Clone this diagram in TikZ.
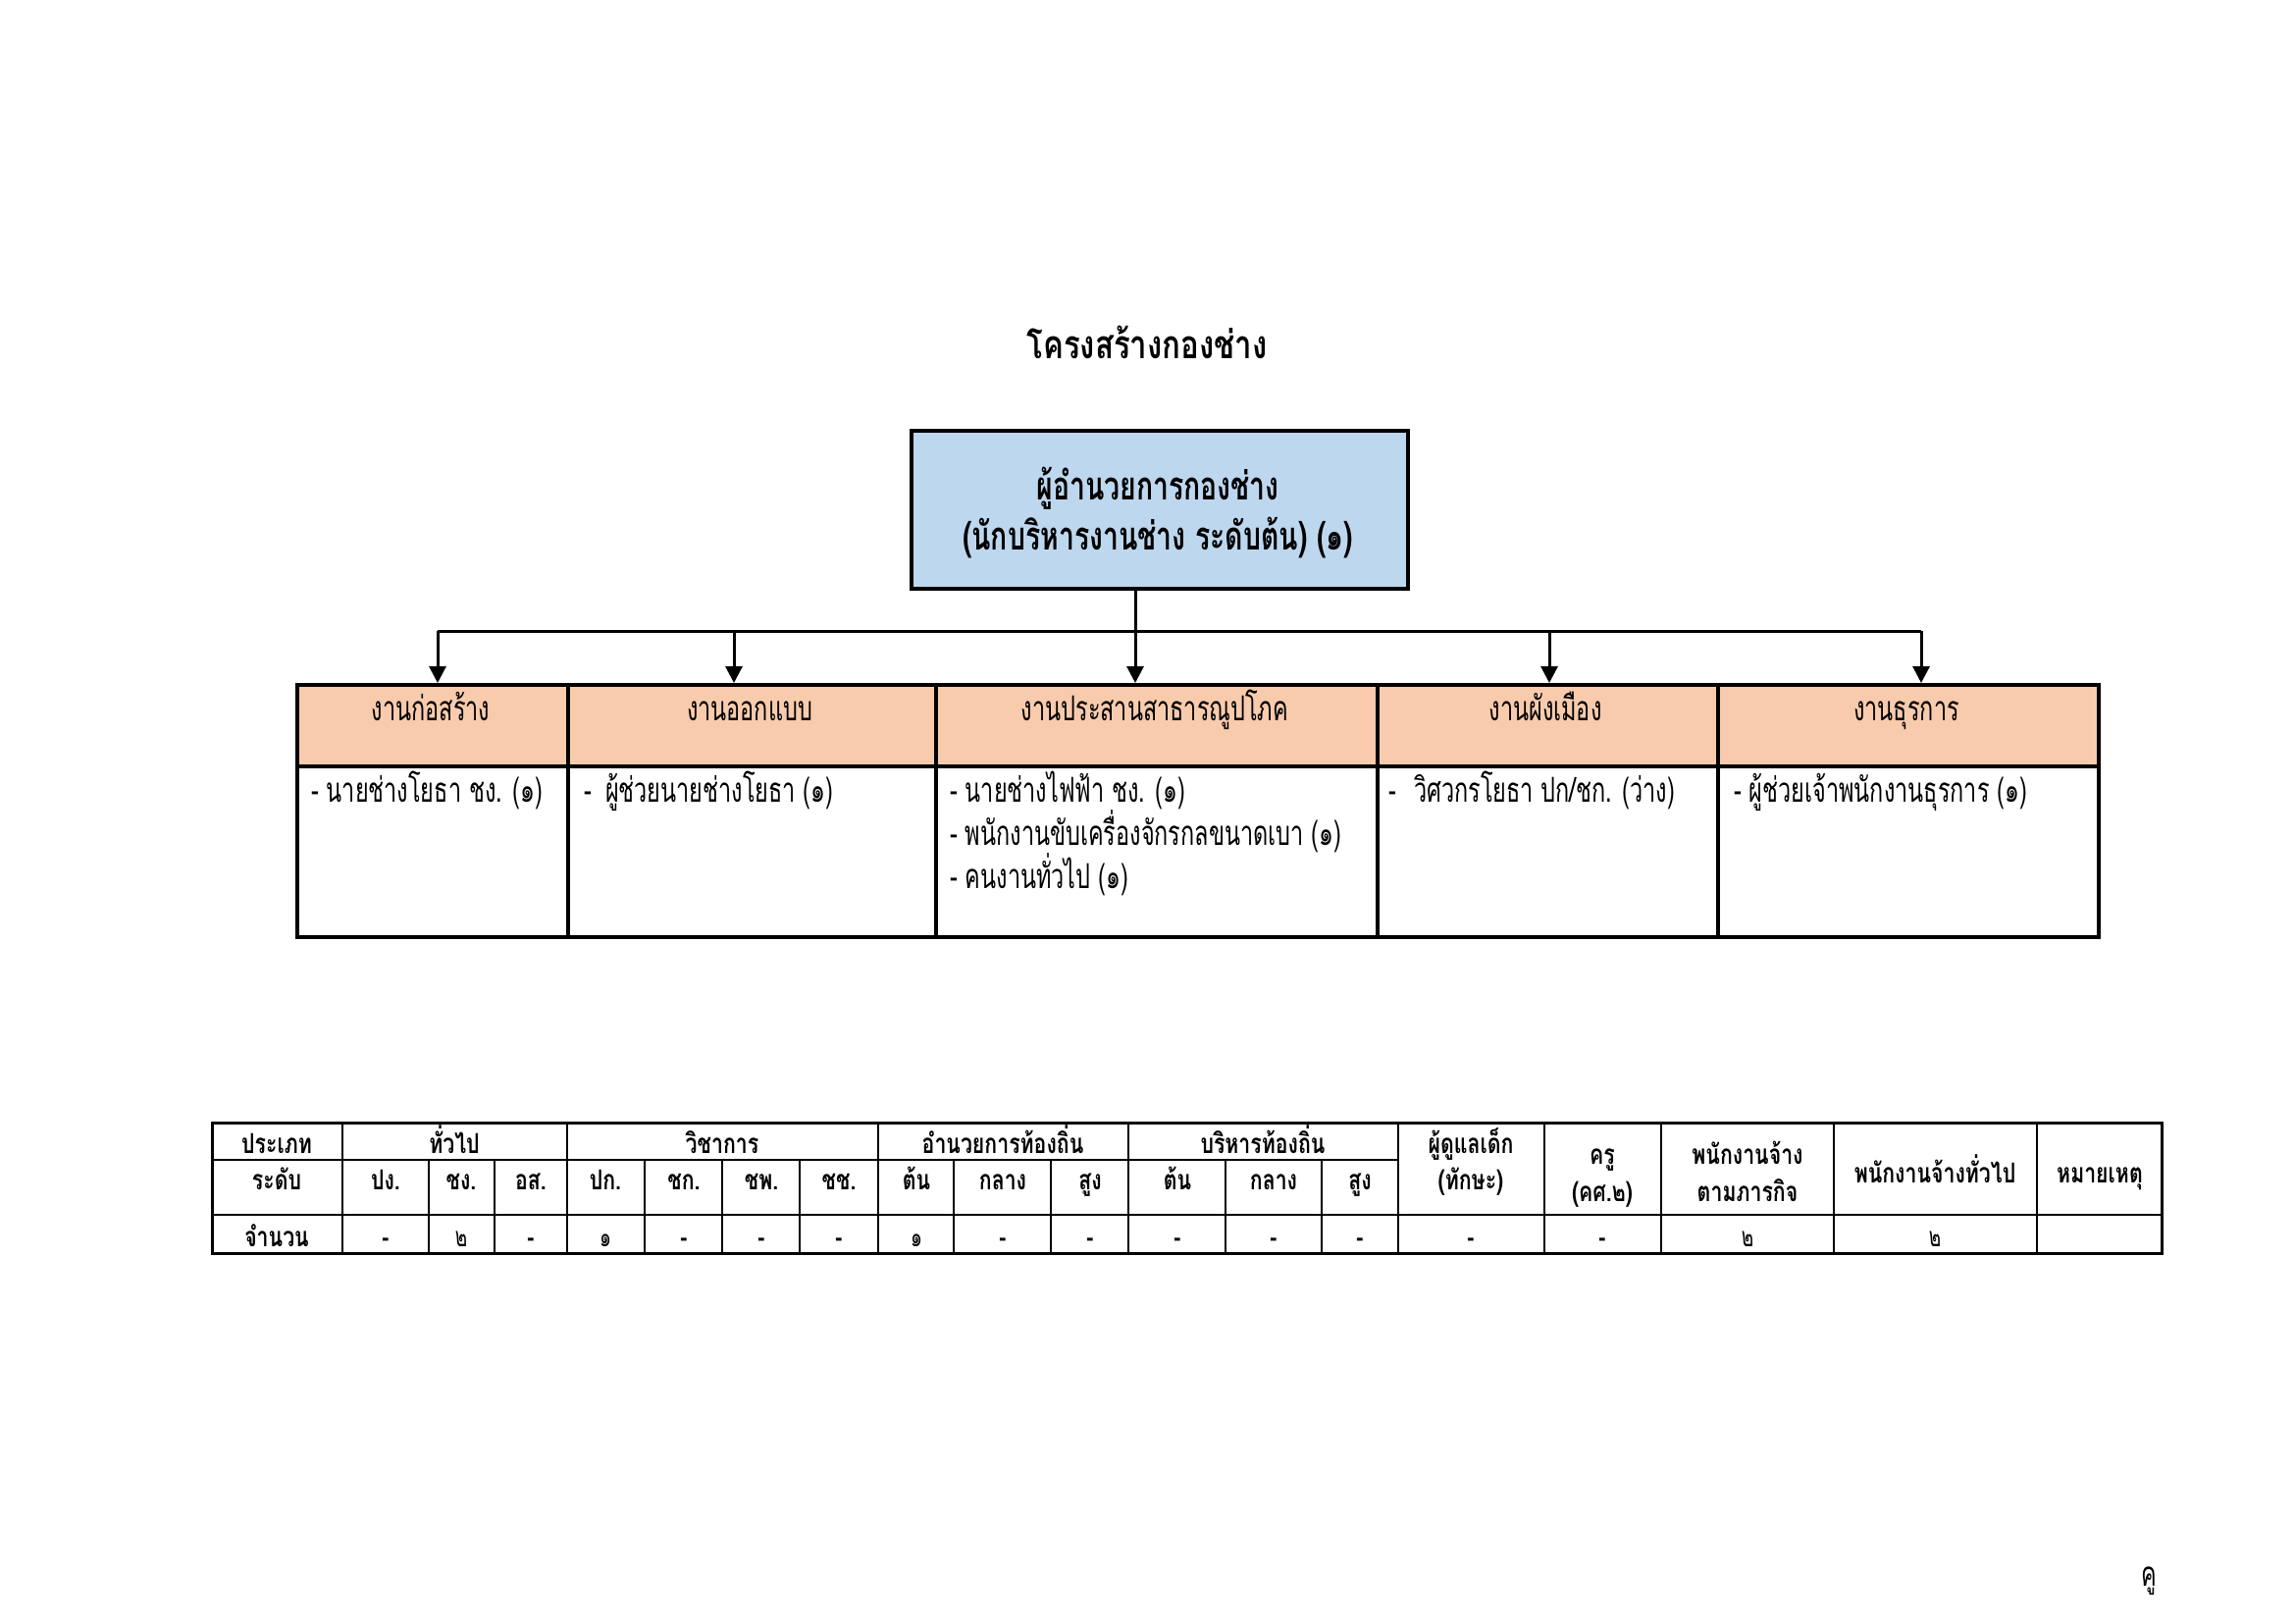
\documentclass[tikz,border=0pt]{standalone}
\usepackage{fontspec}
\usetikzlibrary{arrows.meta}
\newfontfamily\ththin[Script=Thai,FakeStretch=0.67]{Loma}
\newfontfamily\thbold[Script=Thai,FakeStretch=0.78]{Loma}
\newfontfamily\thboss[Script=Thai,FakeStretch=0.71]{Loma}
\newfontfamily\thtab[Script=Thai,FakeStretch=0.76]{Loma}
\definecolor{boxblue}{HTML}{BDD7EE}
\definecolor{hdrorange}{HTML}{F8CBAD}
\tikzset{
  conn/.style={line width=3pt},
  arr/.style={conn,-{Triangle[length=17pt,width=17pt]}},
  cellbox/.style={draw,line width=4pt,anchor=north west,inner sep=0pt},
  hdrbox/.style={cellbox,fill=hdrorange,minimum height=83pt},
  bodybox/.style={cellbox,fill=white,minimum height=174pt},
  titletxt/.style={font=\thbold\bfseries\fontsize{40}{48}\selectfont,anchor=base,inner sep=0pt},
  bosstxt/.style={font=\thboss\bfseries\fontsize{40}{48}\selectfont,anchor=base,inner sep=0pt},
  htxt/.style={font=\ththin\fontsize{35}{42}\selectfont,anchor=base,inner sep=0pt},
  btxt/.style={font=\ththin\fontsize{35}{42}\selectfont,anchor=base west,inner sep=0pt},
  tabtxt/.style={font=\thtab\bfseries\fontsize{28}{34}\selectfont,anchor=base,inner sep=0pt},
  numtxt/.style={font=\ththin\fontsize{28}{34}\selectfont,anchor=base,inner sep=0pt},
  tline/.style={line width=2pt},
  touter/.style={line width=3pt},
}
\begin{document}
\begin{tikzpicture}[x=1pt,y=-1pt]
\useasboundingbox (0,0) rectangle (2339,1654);
\fill[white] (0,0) rectangle (2339,1654);

% title
\node[titletxt] (title) at (1169,365) {โครงสร้างกองช่าง};

% boss box
\node[draw,line width=4pt,fill=boxblue,minimum width=506pt,minimum height=161pt,anchor=north west,inner sep=0pt] (boss) at (927,437) {};
\node[bosstxt] (boss1) at (1180,509) {ผู้อำนวยการกองช่าง};
\node[bosstxt] (boss2) at (1180,560) {(นักบริหารงานช่าง ระดับต้น) (๑)};

% header cells
\node[hdrbox,minimum width=276pt] (h1) at (301,696) {};
\node[hdrbox,minimum width=375pt] (h2) at (577,696) {};
\node[hdrbox,minimum width=450pt] (h3) at (952,696) {};
\node[hdrbox,minimum width=347pt] (h4) at (1402,696) {};
\node[hdrbox,minimum width=388pt] (h5) at (1749,696) {};
% body cells
\node[bodybox,minimum width=276pt] (b1) at (301,779) {};
\node[bodybox,minimum width=375pt] (b2) at (577,779) {};
\node[bodybox,minimum width=450pt] (b3) at (952,779) {};
\node[bodybox,minimum width=347pt] (b4) at (1402,779) {};
\node[bodybox,minimum width=388pt] (b5) at (1749,779) {};

% connectors
\coordinate (bus1) at (446,643);
\coordinate (bus2) at (748,643);
\coordinate (bus3) at (1157,643);
\coordinate (bus4) at (1579,643);
\coordinate (bus5) at (1958,643);
\draw[conn] (boss.south -| bus3) -- (bus3);
\draw[conn] (bus1) -- (bus5);
\draw[arr] (bus1) -- (bus1 |- h1.north);
\draw[arr] (bus2) -- (bus2 |- h2.north);
\draw[arr] (bus3) -- (bus3 |- h3.north);
\draw[arr] (bus4) -- (bus4 |- h4.north);
\draw[arr] (bus5) -- (bus5 |- h5.north);

% header texts
\node[htxt] (ht1) at (439,734) {งานก่อสร้าง};
\node[htxt] (ht2) at (764,734) {งานออกแบบ};
\node[htxt] (ht3) at (1177,734) {งานประสานสาธารณูปโภค};
\node[htxt] (ht4) at (1575,734) {งานผังเมือง};
\node[htxt] (ht5) at (1943,734) {งานธุรการ};

% body texts
\node[btxt] (bt1) at (317,817) {- นายช่างโยธา ชง. (๑)};
\node[btxt] (bt2) at (595,817) {-\hspace{14pt}ผู้ช่วยนายช่างโยธา (๑)};
\node[btxt] (bt3a) at (968,817) {- นายช่างไฟฟ้า ชง. (๑)};
\node[btxt] (bt3b) at (968,861) {- พนักงานขับเครื่องจักรกลขนาดเบา (๑)};
\node[btxt] (bt3c) at (968,905) {- คนงานทั่วไป (๑)};
\node[btxt] (bt4) at (1415,817) {-\hspace{18pt}วิศวกรโยธา ปก/ชก. (ว่าง)};
\node[btxt] (bt5) at (1767,817) {- ผู้ช่วยเจ้าพนักงานธุรการ (๑)};

% ---- bottom table ----
\draw[tline] (216,1182) -- (1425,1182);
\draw[tline] (216,1238) -- (2203,1238);
\foreach \x in {349,578,895,1150,1425,1574,1693,1869,2076}
  \draw[tline] (\x,1144) -- (\x,1277);
\foreach \x in {437,504,657,736,815,972,1071,1249,1347}
  \draw[tline] (\x,1182) -- (\x,1277);
\draw[touter] (216,1144) rectangle (2203,1277);

% row 1
\node[tabtxt] (r1a) at (282,1175) {ประเภท};
\node[tabtxt] (r1b) at (463,1175) {ทั่วไป};
\node[tabtxt] (r1c) at (736,1175) {วิชาการ};
\node[tabtxt] (r1d) at (1022,1175) {อำนวยการท้องถิ่น};
\node[tabtxt] (r1e) at (1287,1175) {บริหารท้องถิ่น};
\node[tabtxt] (r1f) at (1499,1175) {ผู้ดูแลเด็ก};
\node[tabtxt] (r1f2) at (1499,1212) {(ทักษะ)};
\node[tabtxt] (r1g) at (1633,1186) {ครู};
\node[tabtxt] (r1g2) at (1633,1224) {(คศ.๒)};
\node[tabtxt] (r1h) at (1781,1186) {พนักงานจ้าง};
\node[tabtxt] (r1h2) at (1781,1224) {ตามภารกิจ};
\node[tabtxt] (r1i) at (1972,1205) {พนักงานจ้างทั่วไป};
\node[tabtxt] (r1j) at (2140,1205) {หมายเหตุ};
% row 2
\node[tabtxt] (r2a) at (282,1212) {ระดับ};
\node[tabtxt] (r2b) at (393,1212) {ปง.};
\node[tabtxt] (r2c) at (470,1212) {ชง.};
\node[tabtxt] (r2d) at (541,1212) {อส.};
\node[tabtxt] (r2e) at (617,1212) {ปก.};
\node[tabtxt] (r2f) at (697,1212) {ชก.};
\node[tabtxt] (r2g) at (776,1212) {ชพ.};
\node[tabtxt] (r2h) at (855,1212) {ชช.};
\node[tabtxt] (r2i) at (934,1212) {ต้น};
\node[tabtxt] (r2j) at (1022,1212) {กลาง};
\node[tabtxt] (r2k) at (1111,1212) {สูง};
\node[tabtxt] (r2l) at (1200,1212) {ต้น};
\node[tabtxt] (r2m) at (1298,1212) {กลาง};
\node[tabtxt] (r2n) at (1386,1212) {สูง};
% row 3
\node[tabtxt] (r3a) at (282,1270) {จำนวน};
\node[tabtxt] (r3b) at (393,1270) {-};
\node[numtxt] (r3c) at (470,1270) {๒};
\node[tabtxt] (r3d) at (541,1270) {-};
\node[numtxt] (r3e) at (617,1270) {๑};
\node[tabtxt] (r3f) at (697,1270) {-};
\node[tabtxt] (r3g) at (776,1270) {-};
\node[tabtxt] (r3h) at (855,1270) {-};
\node[numtxt] (r3i) at (934,1270) {๑};
\node[tabtxt] (r3j) at (1022,1270) {-};
\node[tabtxt] (r3k) at (1111,1270) {-};
\node[tabtxt] (r3l) at (1200,1270) {-};
\node[tabtxt] (r3m) at (1298,1270) {-};
\node[tabtxt] (r3n) at (1386,1270) {-};
\node[tabtxt] (r3o) at (1499,1270) {-};
\node[tabtxt] (r3p) at (1633,1270) {-};
\node[numtxt] (r3q) at (1781,1270) {๒};
\node[numtxt] (r3r) at (1972,1270) {๒};

% page mark
\node[htxt] (pg) at (2190,1616) {คู};
\end{tikzpicture}
\end{document}
